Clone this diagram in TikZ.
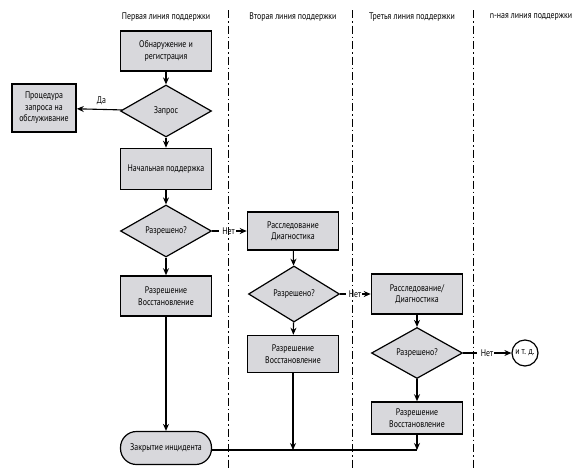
\documentclass[tikz,border=0pt]{standalone}
\usepackage{fontspec}
\setmainfont{PT Sans}[FakeStretch=0.82]
\usetikzlibrary{shapes.geometric,arrows.meta}
\definecolor{boxgray}{RGB}{216,216,220}
\tikzset{
  every node/.style={font=\fontsize{9.6}{11.5}\selectfont},
  procbox/.style={draw=black,line width=1.6pt,fill=boxgray,minimum width=91pt,minimum height=40pt,align=center,inner sep=1pt},
  decision/.style={diamond,draw=black,line width=1.2pt,fill=boxgray,minimum width=91pt,minimum height=52pt,inner sep=0pt,align=center},
  terminal/.style={draw=black,line width=1.2pt,fill=boxgray,rounded corners=16pt,minimum width=91pt,minimum height=33pt,inner sep=1pt},
  endcircle/.style={circle,draw=black,line width=1.2pt,fill=white,minimum size=26pt,inner sep=0pt},
  flow/.style={line width=1.1pt,-{Stealth[length=7pt,width=6pt]}},
  plainflow/.style={line width=1.1pt},
  lane/.style={line width=0.7pt,dash pattern=on 8pt off 3pt on 1.5pt off 3pt},
  header/.style={anchor=center},
  lbl/.style={inner sep=1pt}
}
\begin{document}
\begin{tikzpicture}[x=1pt,y=-1pt]
\useasboundingbox (0,0) rectangle (583,472);
% lanes
\draw[lane] (228,10) -- (228,468);
\draw[lane] (352,10) -- (352,468);
\draw[lane] (473,10) -- (473,468);
% headers
\node[header] (h1) at (166,17) {Первая линия поддержки};
\node[header] (h2) at (293,17) {Вторая линия поддержки};
\node[header] (h3) at (412,17) {Третья линия поддержки};
\node[header] (h4) at (531,17) {n-ная линия поддержки};
% column 1
\node[procbox] (detect) at (166,51) {Обнаружение и\\регистрация};
\node[decision] (req) at (166,111) {Запрос};
\node[procbox,minimum width=64pt,minimum height=48pt] (proc) at (44,108) {Процедура\\запроса на\\обслуживание};
\node[procbox,minimum height=41pt] (init) at (166,169) {Начальная поддержка};
\node[decision] (res1) at (166,231) {Разрешено?};
\node[procbox] (fix1) at (166,296) {Разрешение\\Восстановление};
\node[terminal] (close) at (166,448) {Закрытие инцидента};
% column 2
\node[procbox,minimum height=38pt] (inv2) at (293,231) {Расследование\\Диагностика};
\node[decision,minimum height=56pt] (res2) at (294,294) {Разрешено?};
\node[procbox,minimum height=37pt] (fix2) at (293,354) {Разрешение\\Восстановление};
% column 3
\node[procbox] (inv3) at (417,294) {Расследование/\\Диагностика};
\node[decision,minimum height=51pt] (res3) at (417,353) {Разрешено?};
\node[procbox,minimum height=32pt] (fix3) at (417,418) {Разрешение\\Восстановление};
% column 4
\node[endcircle] (etc) at (525,353) {и т. д.};
% connectors
\draw[flow] (detect) -- (req);
\draw[flow] (req) -- node[lbl,above,pos=0.45,yshift=3pt] {Да} (proc);
\draw[flow] (req) -- (init);
\draw[flow] (init) -- (res1);
\draw[flow] (res1) -- (fix1);
\draw[flow] (fix1) -- (close);
\draw[plainflow] (res1.east) -- (219,231);
\node[lbl] (n1) at (228.5,231) {Нет};
\draw[flow] (n1.east) -- (inv2.west);
\draw[flow] (inv2) -- (res2);
\draw[flow] (res2) -- (fix2);
\draw[plainflow] (res2.east) -- (346,294);
\node[lbl] (n2) at (355,294) {Нет};
\draw[flow] (n2.east) -- (inv3.west);
\draw[flow] (inv3) -- (res3);
\draw[flow] (res3) -- (fix3);
\draw[plainflow] (res3.east) -- (477,353);
\node[lbl] (n3) at (487,353) {Нет};
\draw[flow] (n3.east) -- (etc.west);
\coordinate (j2) at (293,450);
\coordinate (j3) at (417,450);
\draw[plainflow] (close.east |- j2) -- (j3);
\draw[flow] (fix2) -- (j2);
\draw[flow] (fix3) -- (j3);
\end{tikzpicture}
\end{document}
